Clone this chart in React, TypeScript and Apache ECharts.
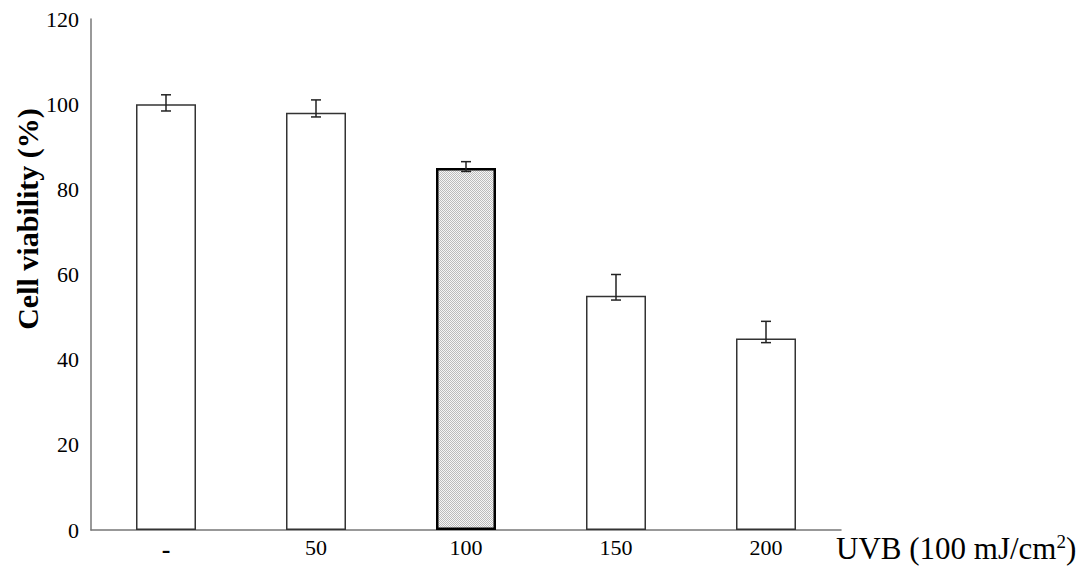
import React, { useEffect, useRef } from "react";
import * as echarts from "echarts";

const categories = ["-", "50", "100", "150", "200"];
const viability = [100, 98, 85, 55, 45];
const errUpper = [2.2, 3, 1.5, 5, 4];
const errLower = [1.6, 1, 0.8, 1, 1];
const highlightIndex = 2;
const yTitle = "Cell viability (%)";

function makePattern(): HTMLCanvasElement {
  const c = document.createElement("canvas");
  c.width = 2;
  c.height = 2;
  const ctx = c.getContext("2d")!;
  ctx.fillStyle = "#f6f6f6";
  ctx.fillRect(0, 0, 2, 2);
  ctx.fillStyle = "#bcbcbc";
  ctx.fillRect(0, 0, 1, 1);
  ctx.fillRect(1, 1, 1, 1);
  return c;
}

export default function App() {
  const ref = useRef<HTMLDivElement>(null);
  useEffect(() => {
    if (!ref.current) return;
    const chart = echarts.init(ref.current, undefined, { renderer: "svg" });
    const serif = "'Liberation Serif', 'Times New Roman', serif";
    const pattern = makePattern();
    const barData = viability.map((v, i) =>
      i === highlightIndex
        ? {
            value: v,
            itemStyle: {
              color: { image: pattern, repeat: "repeat" } as any,
              borderColor: "#000",
              borderWidth: 2.5,
            },
          }
        : v
    );
    const errData = viability.map((v, i) => [i, v - errLower[i], v + errUpper[i]]);
    chart.setOption({
      animation: false,
      backgroundColor: "#fff",
      grid: { left: 91, right: 246, top: 19, bottom: 46 },
      graphic: [
        {
          type: "text",
          x: 27,
          y: 219,
          rotation: Math.PI / 2,
          style: {
            text: yTitle,
            fontFamily: serif,
            fontSize: 30,
            fontWeight: "bold",
            fill: "#000",
            align: "center",
            verticalAlign: "middle",
          },
        },
      ],
      xAxis: {
        type: "category",
        data: categories,
        axisLine: { lineStyle: { color: "#777", width: 1.5 } },
        axisTick: { show: false },
        axisLabel: {
          fontFamily: serif,
          fontSize: 22,
          color: "#000",
          margin: 6,
          formatter: (v: string) => (v === "-" ? "{d|-}" : v),
          rich: {
            d: { fontFamily: serif, fontSize: 26, fontWeight: "bold", color: "#000" },
          },
        },
        name: "UVB (100 mJ/cm{sup|2})",
        nameLocation: "end",
        nameGap: -5,
        nameTextStyle: {
          fontFamily: serif,
          fontSize: 31,
          color: "#000",
          align: "left",
          verticalAlign: "top",
          padding: [2, 0, 0, 0],
          rich: {
            sup: {
              fontFamily: serif,
              fontSize: 19,
              color: "#000",
              verticalAlign: "bottom",
              padding: [0, 0, 14, 0],
            },
          },
        },
      },
      yAxis: {
        type: "value",
        min: 0,
        max: 120,
        interval: 20,
        axisLine: { show: true, lineStyle: { color: "#777", width: 1.5 } },
        axisTick: { show: false },
        splitLine: { show: false },
        axisLabel: {
          fontFamily: serif,
          fontSize: 22,
          color: "#000",
          margin: 12,
        },
      },
      series: [
        {
          type: "bar",
          data: barData,
          barWidth: 60,
          itemStyle: { color: "#fff", borderColor: "#333", borderWidth: 1.5 },
        },
        {
          type: "custom",
          data: errData,
          z: 10,
          renderItem: (params: any, api: any) => {
            const x = api.coord([api.value(0), 0])[0];
            const lo = api.coord([api.value(0), api.value(1)])[1];
            const hi = api.coord([api.value(0), api.value(2)])[1];
            const half = 5;
            const style = { stroke: "#222", lineWidth: 1.5 };
            return {
              type: "group",
              children: [
                { type: "line", shape: { x1: x, y1: lo, x2: x, y2: hi }, style },
                { type: "line", shape: { x1: x - half, y1: hi, x2: x + half, y2: hi }, style },
                { type: "line", shape: { x1: x - half, y1: lo, x2: x + half, y2: lo }, style },
              ],
            };
          },
        },
      ],
    });
    return () => chart.dispose();
  }, []);
  return (
    <div
      ref={ref}
      style={{ position: "fixed", left: 0, top: 0, width: 1087, height: 576, background: "#fff" }}
    />
  );
}
